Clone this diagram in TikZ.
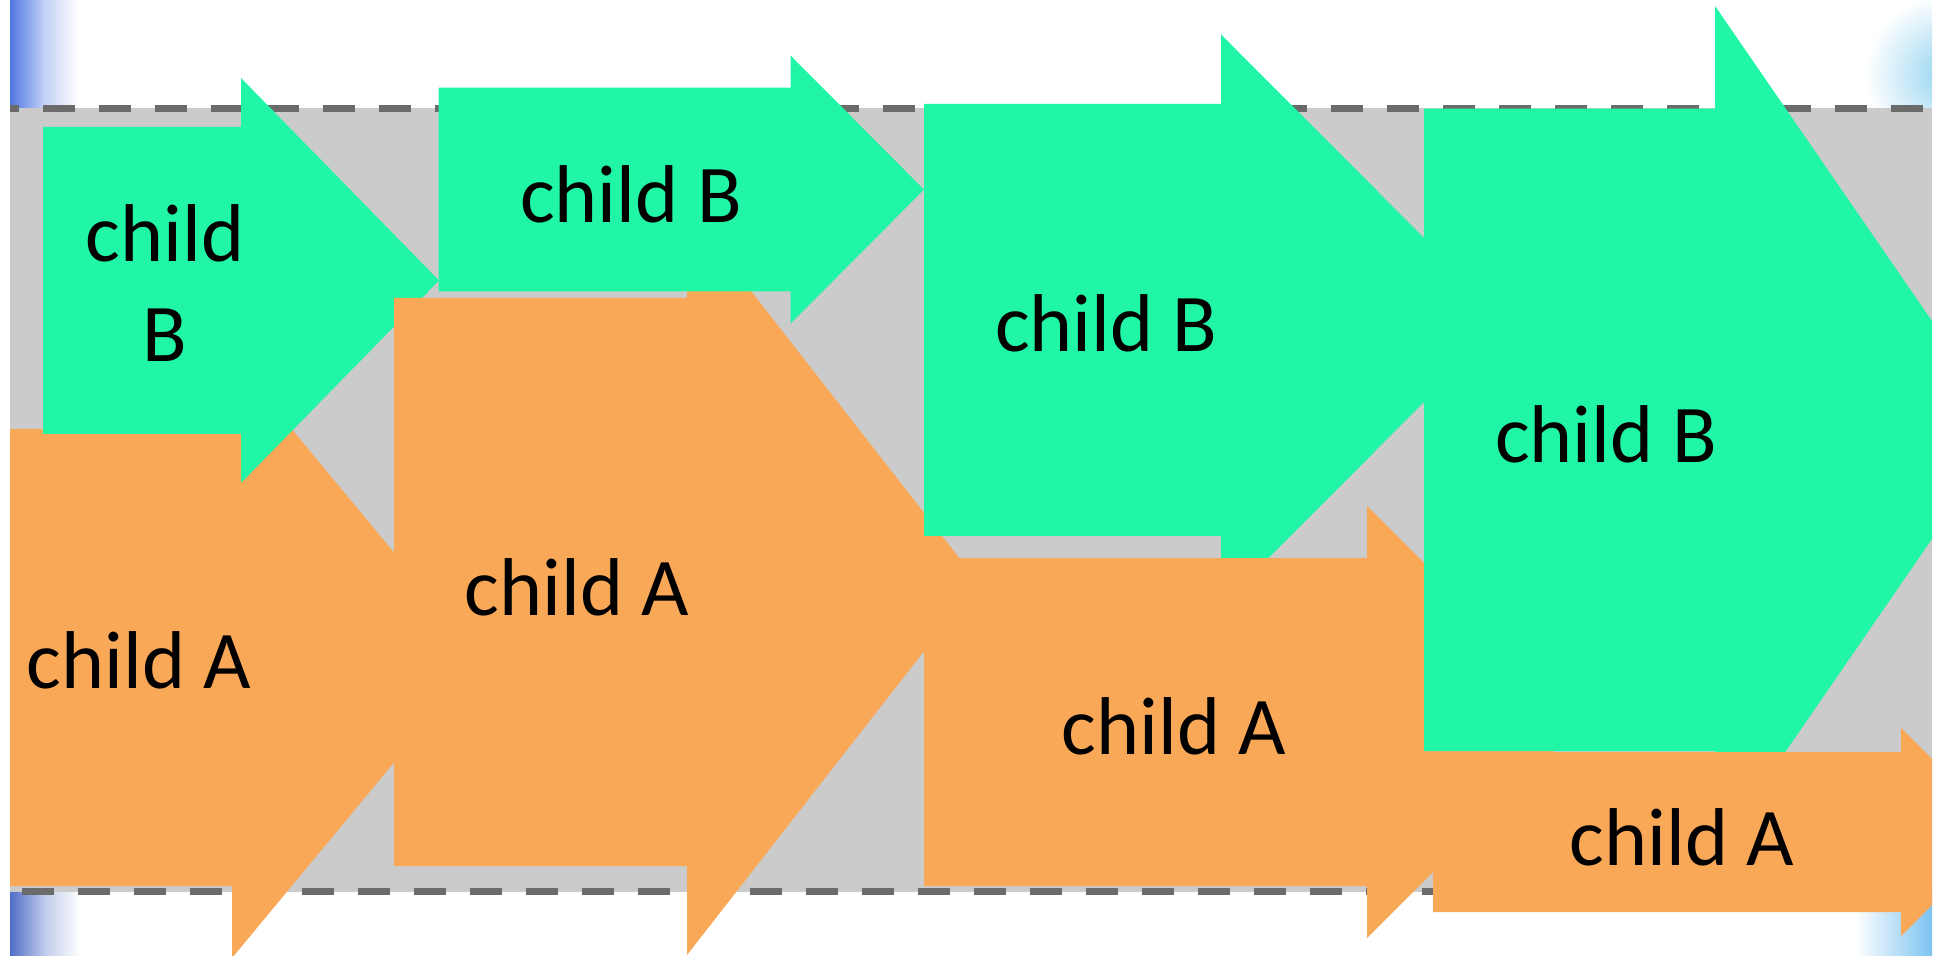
\documentclass[tikz,border=0pt]{standalone}
\usepackage{fontspec}
\setmainfont{Carlito}
\definecolor{grn}{RGB}{32,246,165}
\definecolor{org}{RGB}{249,168,87}
\definecolor{band}{RGB}{203,203,203}
\definecolor{dashc}{RGB}{107,107,107}
\definecolor{blueL}{RGB}{80,120,228}
\definecolor{blueB}{RGB}{80,110,200}
\definecolor{cyanL}{RGB}{150,212,240}
\definecolor{cyanB}{RGB}{125,195,240}
\tikzset{
  arrB/.style={fill=grn},
  arrA/.style={fill=org},
  lbl/.style={font=\fontsize{41}{50}\selectfont, anchor=base, inner sep=0pt, align=center, text=black},
  guide/.style={draw=dashc, line width=3.5pt}
}
\begin{document}
\begin{tikzpicture}[x=0.5pt,y=-0.5pt]
\useasboundingbox (0,0) rectangle (1937,956);
\fill[white] (0,0) rectangle (1937,956);
% background gradient strips
\shade[left color=blueL, right color=white, middle color=blueL!35] (10,0) rectangle (78,108);
\shade[left color=blueB, right color=white, middle color=blueB!35] (10,892) rectangle (80,956);
\begin{scope}
  \clip (1840,0) rectangle (1932,108);
  \shade[inner color=cyanL, outer color=white] (1945,75) circle[radius=40pt];
\end{scope}
\shade[left color=white, right color=cyanB] (1855,892) rectangle (1932,956);
% band
\fill[band] (10,108) rectangle (1932,892);
\draw[guide, dash pattern=on 16pt off 12pt, dash phase=11.5pt] (10,109) -- (1932,109);
\draw[guide, dash pattern=on 16pt off 12pt, dash phase=22pt] (10,891) -- (1932,891);
\begin{scope}
  \clip (10,0) rectangle (1932,956);
  % A1
  \fill[arrA] (0,429) -- (232,429) -- (232,357) -- (481,657.5) -- (232,958) -- (232,886) -- (0,886) -- cycle;
  % B1
  \fill[arrB] (43,127) -- (241,127) -- (241,78) -- (439,280.5) -- (241,483) -- (241,434) -- (43,434) -- cycle;
  % A2
  \fill[arrA] (394,298) -- (687,298) -- (687,209) -- (978,582) -- (687,955) -- (687,866) -- (394,866) -- cycle;
  % B2
  \fill[arrB] (438.5,87.7) -- (790.6,87.7) -- (790.6,55.6) -- (924,189.6) -- (790.6,323.6) -- (790.6,291.5) -- (438.5,291.5) -- cycle;
  % B3
  \fill[arrB] (924,104) -- (1221,104) -- (1221,34.5) -- (1506,320) -- (1221,605.5) -- (1221,536) -- (924,536) -- cycle;
  % A3
  \fill[arrA] (924,558) -- (1367,558) -- (1367,506) -- (1583,722) -- (1367,938) -- (1367,886) -- (924,886) -- cycle;
  % B4
  \fill[arrB] (1424,108.7) -- (1715,108.7) -- (1715,6) -- (2007,430) -- (1715,854) -- (1715,751) -- (1424,751) -- cycle;
  % A4
  \fill[arrA] (1433,752) -- (1901,752) -- (1901,728) -- (2005,832) -- (1901,936) -- (1901,912) -- (1433,912) -- cycle;
\end{scope}
% labels
\node[lbl] (b1) at (165,362) {child\\B};
\node[lbl] (b2) at (631,223) {child B};
\node[lbl] (b3) at (1106,352) {child B};
\node[lbl] (b4) at (1606,463) {child B};
\node[lbl] (a1) at (139,688) {child A};
\node[lbl] (a2) at (577,615) {child A};
\node[lbl] (a3) at (1174,754) {child A};
\node[lbl] (a4) at (1682,865) {child A};
\end{tikzpicture}
\end{document}
